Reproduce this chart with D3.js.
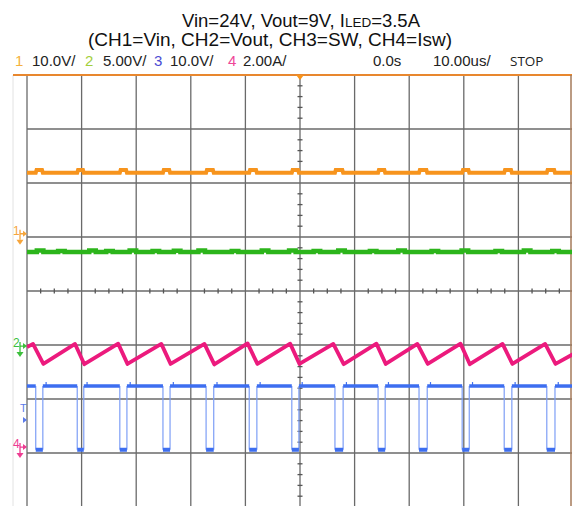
<!DOCTYPE html>
<html>
<head>
<meta charset="utf-8">
<script src="https://cdn.jsdelivr.net/npm/d3@7"></script>
<style>
  body { margin: 0; background: #fff; }
  svg { display: block; }
  text { font-family: "Liberation Sans", Arial, sans-serif; }
</style>
</head>
<body>
<div id="scope"></div>
<script>
// time base: 10 us/div, trigger at 0.0s (centre)
var timeDomain = [-50, 50];

var channels = [
  {id: '1', name: 'Vin',  scale: 10,  unit: 'V', offset: 1.06,  color: '#f7941d', label: '#f5b13d'},
  {id: '2', name: 'Vout', scale: 5,   unit: 'V', offset: -1.02, color: '#2cb51b', label: '#a3cf3c'},
  {id: '3', name: 'SW',   scale: 10,  unit: 'V', offset: -2.94, color: '#3d6ef0', label: '#4b4bd3'},
  {id: '4', name: 'Isw',  scale: 2,   unit: 'A', offset: -2.89, color: '#ec1a7d', label: '#ef4698'}
];
var scaleLabels = ['10.0V/', '5.00V/', '10.0V/', '2.00A/'];
var triggerLevel = -2.39;   // div

// SW node: instants (us) where the switch node is low
var swLowStart = [-48.4, -40.8, -33.0, -25.1, -17.2, -9.3, -1.5, 6.4, 14.3, 21.8, 29.7, 37.4, 45.2];
var swLowEnd   = [-47.1, -39.6, -31.7, -23.8, -15.8, -7.9, -0.2, 7.9, 15.6, 23.3, 31.0, 38.8, 46.7];
var swHigh = 11.8, swLow = 0;

// Isw sawtooth vertices
var iswTime = [-50, -48.9, -47.0, -41.2, -39.5, -33.3, -31.6, -25.4, -23.7, -17.5, -15.7, -9.6, -7.8,
               -1.8, -0.1, 6.1, 8.0, 14.0, 15.7, 21.5, 23.4, 29.4, 31.1, 37.1, 38.9, 44.9, 46.8, 50];
var iswAmp  = [3.70, 3.82, 3.08, 3.82, 3.07, 3.83, 3.08, 3.82, 3.08, 3.82, 3.06, 3.84, 3.08,
               3.83, 3.08, 3.82, 3.07, 3.83, 3.08, 3.82, 3.08, 3.83, 3.07, 3.82, 3.08, 3.82, 3.08, 3.44];

// Vin: flat with a small step while SW is low
var vinBase = 11.3, vinBump = 11.8;

// Vout: flat with little ripple bumps
var voutBase = 8.7;
var voutBumpT = [-48.2, -44.3, -38.6, -35.5, -31.2, -27.0, -23.1, -18.6, -12.5, -7.0, -2.0, 2.5, 7.0, 12.8, 18.0, 24.1, 29.6, 35.8, 41.0, 46.2];
var voutBumpV = [8.85, 8.8, 8.85, 8.8, 8.85, 8.8, 8.82, 8.85, 8.8, 8.85, 8.85, 8.8, 8.85, 8.8, 8.85, 8.8, 8.85, 8.8, 8.85, 8.8];

var W = 572, H = 506;
var x = d3.scaleLinear().domain(timeDomain).range([27, 573]);
var y = d3.scaleLinear().domain([-4, 4]).range([507, 75]);

function chY(ch, v) { return y(ch.offset + v / ch.scale); }

var svg = d3.select('#scope').append('svg')
  .attr('width', W)
  .attr('height', H);

// title
var title = svg.append('g').attr('fill', '#111');
var t1 = title.append('text')
  .attr('x', 301).attr('y', 27)
  .attr('text-anchor', 'middle')
  .style('font-size', '18.5px');
t1.append('tspan').text('Vin=24V, Vout=9V, I');
t1.append('tspan').style('font-size', '13.5px').text('LED');
t1.append('tspan').text('=3.5A');
title.append('text')
  .attr('x', 270).attr('y', 46)
  .attr('text-anchor', 'middle')
  .style('font-size', '19px')
  .text('(CH1=Vin, CH2=Vout, CH3=SW, CH4=Isw)');

// header row
var head = svg.append('g').style('font-size', '15px');
var numX = [15, 85, 154, 228], valX = [32, 103, 170, 243];
channels.forEach(function(ch, i) {
  head.append('text').attr('x', numX[i]).attr('y', 66).attr('fill', ch.label).text(ch.id);
  head.append('text').attr('x', valX[i]).attr('y', 66).attr('fill', '#222').text(scaleLabels[i]);
});
head.append('text').attr('x', 373).attr('y', 66).attr('fill', '#222').text('0.0s');
head.append('text').attr('x', 433).attr('y', 66).attr('fill', '#222').text('10.00us/');
head.append('text').attr('x', 510).attr('y', 66).attr('fill', '#222')
  .style('font-family', '"Open Sans", sans-serif').style('font-size', '13.5px').text('STOP');

// graticule
var grid = svg.append('g');
grid.append('line')
  .attr('x1', 13).attr('x2', 13).attr('y1', 75).attr('y2', H)
  .attr('stroke', '#e2e2e2').attr('stroke-width', 1);

grid.selectAll('line.v')
  .data(d3.range(-50, 51, 10))
  .enter().append('line')
  .attr('class', 'v')
  .attr('x1', function(d) { return x(d); })
  .attr('x2', function(d) { return x(d); })
  .attr('y1', y(4)).attr('y2', y(-4))
  .attr('stroke', '#6a6a6a').attr('stroke-width', 1.3);

grid.selectAll('line.h')
  .data(d3.range(-4, 5, 1))
  .enter().append('line')
  .attr('class', 'h')
  .attr('x1', x(-50)).attr('x2', x(50))
  .attr('y1', function(d) { return y(d); })
  .attr('y2', function(d) { return y(d); })
  .attr('stroke', '#6a6a6a').attr('stroke-width', 1.3);

// minor ticks on the centre axes
grid.selectAll('line.tx')
  .data(d3.range(-50, 50.1, 2.5).filter(function(d) { return d % 10 !== 0; }))
  .enter().append('line')
  .attr('x1', function(d) { return x(d); })
  .attr('x2', function(d) { return x(d); })
  .attr('y1', y(0) - 2.5).attr('y2', y(0) + 2.5)
  .attr('stroke', '#555').attr('stroke-width', 1.3);

grid.selectAll('line.ty')
  .data(d3.range(-4, 4.01, 0.2).filter(function(d) { return Math.abs(d - Math.round(d)) > 0.01; }))
  .enter().append('line')
  .attr('x1', x(0) - 2.5).attr('x2', x(0) + 2.5)
  .attr('y1', function(d) { return y(d); })
  .attr('y2', function(d) { return y(d); })
  .attr('stroke', '#555').attr('stroke-width', 1.3);

// frame: orange top edge, brown right edge
grid.append('line')
  .attr('x1', 13).attr('x2', W).attr('y1', y(4)).attr('y2', y(4))
  .attr('stroke', '#e8872e').attr('stroke-width', 2);
grid.append('line')
  .attr('x1', 571).attr('x2', 571).attr('y1', y(4)).attr('y2', H)
  .attr('stroke', '#a57a5a').attr('stroke-width', 1.5);

// trigger position marker
svg.append('path')
  .attr('d', 'M' + (x(0) - 4) + ',' + y(4) + 'H' + (x(0) + 4) + 'L' + x(0) + ',' + (y(4) + 5) + 'Z')
  .attr('fill', '#f7941d');

var line = d3.line()
  .x(function(d) { return x(d[0]); })
  .y(function(d) { return d[1]; });

// CH1 Vin
var ch1 = channels[0], vinPts = [[-50, chY(ch1, vinBase)]];
swLowStart.forEach(function(t0, i) {
  vinPts.push([t0, chY(ch1, vinBase)], [t0 + 0.15, chY(ch1, vinBump)],
              [swLowEnd[i] - 0.15, chY(ch1, vinBump)], [swLowEnd[i], chY(ch1, vinBase)]);
});
vinPts.push([50, chY(ch1, vinBase)]);
svg.append('path').datum(vinPts).attr('d', line)
  .attr('fill', 'none').attr('stroke', ch1.color).attr('stroke-width', 4);

// CH2 Vout
var ch2 = channels[1], voutPts = [[-50, chY(ch2, voutBase)]];
voutBumpT.forEach(function(t0, i) {
  voutPts.push([t0, chY(ch2, voutBase)], [t0, chY(ch2, voutBumpV[i])],
               [t0 + 1.2, chY(ch2, voutBumpV[i])], [t0 + 1.2, chY(ch2, voutBase)]);
});
voutPts.push([50, chY(ch2, voutBase)]);
svg.append('path').datum(voutPts).attr('d', line)
  .attr('fill', 'none').attr('stroke', ch2.color).attr('stroke-width', 4.5);

// CH3 SW: thick levels, thin edges
var ch3 = channels[2], sw = svg.append('g');
var hiY = chY(ch3, swHigh), loY = chY(ch3, swLow);
var highSegs = [[-50, swLowStart[0]]];
swLowEnd.forEach(function(t1, i) {
  highSegs.push([t1, i + 1 < swLowStart.length ? swLowStart[i + 1] : 50]);
});
sw.selectAll('line.edge')
  .data(swLowStart.concat(swLowEnd))
  .enter().append('line')
  .attr('x1', function(d) { return x(d); })
  .attr('x2', function(d) { return x(d); })
  .attr('y1', hiY).attr('y2', loY)
  .attr('stroke', '#7d9ef6').attr('stroke-width', 1.2);
sw.selectAll('line.hi')
  .data(highSegs)
  .enter().append('line')
  .attr('x1', function(d) { return x(d[0]); })
  .attr('x2', function(d) { return x(d[1]); })
  .attr('y1', hiY).attr('y2', hiY)
  .attr('stroke', ch3.color).attr('stroke-width', 3.5);
sw.selectAll('line.lo')
  .data(swLowStart)
  .enter().append('line')
  .attr('x1', function(d) { return x(d); })
  .attr('x2', function(d, i) { return x(swLowEnd[i]); })
  .attr('y1', loY).attr('y2', loY)
  .attr('stroke', ch3.color).attr('stroke-width', 4);
// ringing ticks after each rising edge
sw.selectAll('line.ring')
  .data(swLowEnd)
  .enter().append('line')
  .attr('x1', function(d) { return x(d + 0.6); })
  .attr('x2', function(d) { return x(d + 0.6); })
  .attr('y1', hiY - 4).attr('y2', hiY)
  .attr('stroke', ch3.color).attr('stroke-width', 1.2);

// CH4 Isw
var ch4 = channels[3];
svg.append('path')
  .datum(iswTime.map(function(t, i) { return [t, chY(ch4, iswAmp[i])]; }))
  .attr('d', line)
  .attr('fill', 'none').attr('stroke', ch4.color).attr('stroke-width', 3.8)
  .attr('stroke-linejoin', 'round');

// ground markers on the left
function marker(label, color, yy) {
  var g = svg.append('g');
  g.append('text').attr('x', 13).attr('y', yy + 1).attr('fill', color)
    .style('font-size', '12px').text(label);
  g.append('path')
    .attr('d', 'M20,' + (yy - 4) + 'V' + (yy + 6) + 'M20,' + yy + 'H23')
    .attr('stroke', color).attr('stroke-width', 1.3).attr('fill', 'none');
  g.append('path')
    .attr('d', 'M23,' + (yy - 3) + 'L27,' + yy + 'L23,' + (yy + 3) + 'Z')
    .attr('fill', color);
  g.append('path')
    .attr('d', 'M16.5,' + (yy + 6) + 'H23.5L20,' + (yy + 11) + 'Z')
    .attr('fill', color);
}
marker('1', '#f6a53b', y(channels[0].offset));
marker('2', '#3cbf3c', y(channels[1].offset));
marker('4', '#ee3c92', y(channels[3].offset));

// trigger level marker
svg.append('text').attr('x', 20).attr('y', y(triggerLevel) - 8)
  .attr('fill', '#5b7bea').style('font-size', '11px').text('T');
svg.append('path')
  .attr('d', 'M23,' + (y(triggerLevel) - 3) + 'L27,' + y(triggerLevel) + 'L23,' + (y(triggerLevel) + 3) + 'Z')
  .attr('fill', '#5b7bea');
</script>
</body>
</html>
